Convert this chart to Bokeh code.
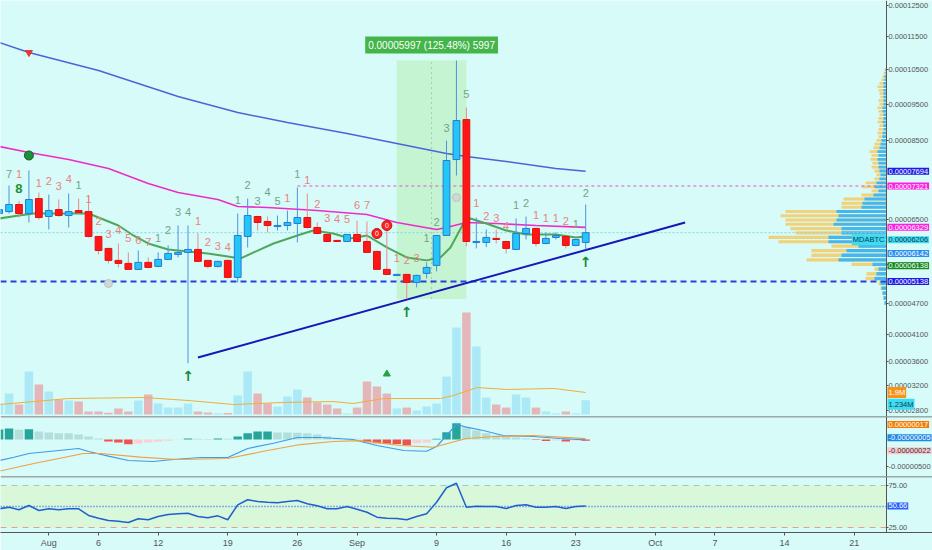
import numpy as np
from bokeh.plotting import figure
from bokeh.models import (Range1d, FixedTicker, CustomJSTickFormatter, Span, Label,
                          BoxAnnotation, ColumnDataSource)
from bokeh.layouts import column
from bokeh.embed import file_html
from bokeh.resources import INLINE
from bokeh.core.properties import value

# ---------------- data (prices in satoshi = 1e-8 BTC, day 0 = Aug 1) ----------------
days = list(range(-5, 55))
opens = [6652, 6699, 6868, 6652, 7012, 6582, 6747, 6605, 6724, 6699,
         6120, 5851, 5588, 5522, 5394, 5544, 5458, 5609, 5718, 5762,
         5828, 5588, 5458, 5588, 5224, 6120, 6582, 6464, 6349, 6371,
         6418, 6558, 6325, 6165, 6030, 6006, 6165, 6006, 5784, 5394,
         5266, 5287, 5119, 5309, 5479, 6142, 7994, 9067, 5984, 5984,
         6075, 6006, 5828, 6187, 6303, 5961, 6097, 6120, 5917, 5984]
highs = [6800, 7333, 6950, 7713, 7160, 7110, 6989, 7135, 7012, 7086,
         6130, 5860, 5961, 5762, 5806, 5653, 5762, 5917, 6371, 6371,
         6187, 5600, 5580, 5600, 6652, 7012, 6600, 6582, 6605, 6724,
         7283, 7135, 6442, 6180, 6040, 6180, 6488, 6464, 5800, 6257,
         5300, 5300, 5280, 5544, 6150, 8495, 10776, 9403, 6558, 6279,
         6279, 6020, 6535, 6582, 6320, 6210, 6210, 6130, 6060, 6868]
lows = [6600, 6652, 6558, 6442, 6510, 6279, 6580, 6325, 6650, 6097,
        5718, 5522, 5436, 5380, 5380, 5420, 5440, 5600, 5653, 3574,
        5550, 5415, 5430, 5200, 5119, 5872, 6257, 6210, 6257, 6257,
        5984, 6300, 6170, 5990, 5995, 5990, 5990, 5750, 5380, 5270,
        5250, 4779, 5017, 5203, 5351, 6130, 7584, 5895, 5851, 5880,
        5961, 5740, 5820, 6051, 5895, 5940, 6051, 5851, 5900, 5828]
closes = [6747, 6868, 6652, 6989, 6558, 6724, 6605, 6699, 6677, 6120,
          5806, 5588, 5522, 5394, 5544, 5436, 5609, 5740, 5762, 5828,
          5566, 5458, 5566, 5224, 6142, 6605, 6442, 6371, 6371, 6442,
          6558, 6325, 6187, 6006, 6006, 6165, 6006, 5762, 5394, 5287,
          5287, 5119, 5266, 5436, 6142, 7969, 9040, 6006, 6006, 6097,
          6051, 5851, 6187, 6303, 5961, 6075, 6142, 5917, 6051, 6206]
volume_m = [0.95, 1.81, 0.86, 3.72, 2.59, 1.99, 1.30, 1.21, 1.12, 0.26,
            0.26, 0.15, 0.52, 0.26, 1.21, 1.73, 0.95, 0.60, 0.60, 0.95,
            0.26, 0.17, 0.10, 0.12, 1.64, 3.72, 1.81, 0.95, 0.69, 1.56,
            2.16, 1.47, 1.04, 0.86, 0.52, 0.10, 0.60, 2.85, 2.42, 1.81,
            0.52, 0.60, 0.35, 0.69, 0.95, 3.28, 7.52, 8.81, 5.88, 1.47,
            0.86, 0.60, 1.73, 1.47, 0.60, 0.26, 0.10, 0.26, 0.10, 1.234]
vol_ma_days = [-5, -1.5, 2, 9.5, 14, 18.6, 23.6, 28.6, 30.6, 33.7, 39.4, 40.7, 43.1, 46.1, 50.8, 54]
vol_ma_m = [0.86, 1.12, 1.38, 1.47, 1.21, 0.86, 1.04, 1.12, 0.95, 1.38, 1.38, 1.64, 2.33, 2.16, 2.25, 1.90]

ma_slow_days = [-5, -2, 5, 9, 13, 19, 24, 30, 35, 40, 42, 46, 51, 54]
ma_slow = [11326, 11019, 10476, 10094, 9718, 9264, 8987, 8686, 8417, 8152, 8074, 7944, 7763, 7694]
ma_mid_days = [-5, -2, 2, 6, 10, 13, 17, 19, 22, 27, 32, 35, 39, 40, 42, 45, 49, 54]
ma_mid = [8337, 8178, 7996, 7763, 7384, 7161, 6989, 6820, 6796, 6724, 6630, 6442, 6279, 6325, 6442, 6418, 6371, 6329]
ma_fast_days = [-5, -3, -1.5, 2, 4, 5, 7, 8.5, 10, 12, 14, 16, 18, 19.3, 20.6, 22.6, 25.3, 26.6,
                28.6, 30.3, 32, 34, 36, 38, 39.4, 40.4, 41.7, 42.4, 44, 46, 48, 51, 53, 54]
ma_fast = [6535, 6605, 6652, 6652, 6652, 6558, 6371, 6142, 5961, 5828, 5784, 5740, 5675, 5631, 5762, 5961,
           6165, 6257, 6187, 6075, 6142, 5872, 5653, 5588, 5653, 5872, 6418, 6535, 6418, 6257, 6165, 6165, 6097, 6120]

td_days = [-4, -3, -3, -1, 0, 1, 2, 3, 4, 5, 6, 7, 8, 9, 10, 11, 12, 13, 14, 15,
           16, 17, 18, 19, 20, 21, 22, 23, 24, 25, 26, 27, 28, 29, 30, 31, 32, 35, 36, 37,
           38, 39, 40, 42, 43, 44, 45, 46, 47, 48, 49, 50, 51, 52, 53, 54]
td_text = ["7", "1", "8", "1", "2", "3", "4", "1", "1", "2", "3", "4", "5", "6", "7", "1", "2", "3", "4", "1",
           "2", "3", "4", "1", "2", "3", "4", "5", "1", "1", "1", "2", "3", "4", "5", "6", "7", "1", "2", "3",
           "1", "2", "3", "5", "1", "2", "3", "4", "1", "2", "1", "1", "1", "2", "1", "2"]
td_price = [7635, 7635, 7260, 7384, 7434, 7333, 7484, 7358, 7012, 6488, 6165, 6279, 6075, 6030, 5984, 6075, 6257, 6699, 6699, 6488,
            5984, 5895, 5872, 6989, 7358, 6941, 7184, 6941, 7037, 7635, 7459, 6892, 6558, 6512, 6512, 6845, 6868, 5631, 5588, 5631,
            6075, 6464, 8847, 9801, 6916, 6605, 6558, 6349, 6868, 6916, 6629, 6558, 6558, 6488, 6418, 7160]
td_kind = ["b", "s", "B", "s", "s", "s", "s", "b", "s", "s", "s", "s", "s", "s", "s", "b", "b", "b", "b", "s",
           "s", "s", "s", "b", "b", "b", "b", "b", "s", "b", "s", "s", "s", "s", "s", "s", "s", "s", "s", "s",
           "b", "b", "b", "b", "s", "s", "s", "s", "b", "b", "s", "s", "s", "s", "b", "b"]

buy_arrow_days = [14, 36, 54]
support_level = 5138
resistance_level = 7321
resistance_from_day = 25
last_price = 6206
trend_days = [15, 64]
trend_price = [3676, 6442]
measure_days = [35, 42]
measure_low, measure_high = 4779, 10776
measure_text = "0.00005997 (125.48%) 5997"

vp_price = list(range(4700, 10600, 100))
vp_total = [2, 3, 4, 6, 8, 21, 20, 12, 35, 80,
            75, 75, 55, 108, 118, 91, 96, 101, 101, 106,
            101, 45, 45, 43, 25, 15, 25, 21, 12, 10,
            12, 15, 14, 16, 15, 17, 13, 12, 10, 8,
            9, 8, 7, 9, 8, 7, 8, 9, 7, 8,
            6, 7, 8, 9, 7, 5, 4, 3, 2]
vp_up = [2, 3, 4, 5, 6, 12, 10, 8, 14, 48,
         45, 40, 28, 58, 58, 45, 45, 53, 50, 48,
         50, 25, 24, 22, 13, 8, 12, 10, 7, 6,
         7, 8, 8, 9, 8, 9, 7, 6, 5, 4,
         4, 3, 3, 4, 3, 3, 4, 4, 3, 3,
         3, 3, 3, 3, 3, 2, 2, 1, 1]

macd_hist = [185, 204, 180, 190, 148, 130, 117, 115, 93, 56,
             18, -37, -56, -87, -74, -56, -43, -24, -5, 19,
             12, 10, 20, 12, 56, 117, 148, 150, 130, 128,
             126, 117, 93, 56, 31, 19, 12, -50, -68, -80,
             -81, -105, -68, -56, 12, 135, 302, 228, 167, 117,
             74, 46, 37, 19, -9, -28, -19, -37, -20, -22]
macd_days = [-5, -3.5, -2, 0, 3, 4, 6, 8, 10.5, 12.5, 15.3, 18, 20, 22.6, 25, 27.3, 30.6, 33,
             35.7, 38, 39, 40, 41, 42, 43.7, 45.7, 48.7, 51.4, 54]
macd_line = [-389, -328, -259, -222, -167, -222, -309, -389, -407, -370, -333, -333, -167, -69, 37, 37, 0,
             -111, -204, -217, -130, 74, 278, 228, 167, 74, 56, 19, -5]
signal_days = [-5, -1.5, 3.5, 5.2, 9.2, 12.9, 18, 22, 25.3, 28.6, 31.3, 35.4, 38.7, 42, 44.8, 48.7, 54]
signal_line = [-587, -444, -259, -259, -328, -370, -352, -204, -93, -37, -19, -111, -143, 19, 56, 74, 17]

rsi = [47.3, 49.2, 46.1, 51.2, 45.2, 47.3, 46.1, 47.3, 47.3, 39.3,
       36.1, 33.3, 32.5, 31.0, 35.4, 34.2, 38.1, 40.5, 41.3, 42.0,
       38.1, 36.5, 38.9, 34.2, 52.0, 58.0, 56.0, 55.1, 54.4, 56.0,
       57.1, 53.2, 50.8, 47.3, 47.3, 50.0, 46.8, 43.2, 37.3, 36.1,
       35.7, 34.2, 38.1, 41.3, 55.1, 72.3, 77.7, 49.2, 50.4, 50.0,
       50.0, 47.6, 51.2, 52.0, 49.2, 49.2, 50.0, 47.6, 50.0, 50.66]

x_tick_days = [-5, 0, 5, 11, 18, 25, 31, 39, 46, 53, 61, 67, 74, 81]
x_tick_labels = ["27", "Aug", "6", "12", "19", "26", "Sep", "9", "16", "23", "Oct", "7", "14", "21"]
price_ticks = [12500, 11500, 10500, 9500, 8500, 6500, 5500, 4700, 4100, 3600, 3200, 2800]

# ---------------- styling ----------------
BG = "#d6fbf8"
AX = "#555555"
FONT = "Liberation Sans"
LBL = "7.5px"
X_START, X_END = -4.858, 88.88
AXIS_DAY = 84.25


def sq(a):
    return np.sqrt(np.asarray(a, dtype=float))


def make_fig(height, y_range, bottom_axis=False):
    p = figure(width=932, height=height, x_range=Range1d(X_START, X_END), y_range=y_range,
               output_backend="svg", toolbar_location=None,
               x_axis_location="below" if bottom_axis else None, y_axis_location="right",
               background_fill_color=BG, border_fill_color=BG, outline_line_color=None,
               min_border_left=0, min_border_top=0, min_border_bottom=18 if bottom_axis else 0,
               min_border_right=0)
    p.grid.visible = False
    for ax in p.axis:
        ax.axis_line_color = AX
        ax.major_tick_line_color = AX
        ax.major_tick_out = 2
        ax.major_tick_in = 0
        ax.minor_tick_line_color = None
        ax.major_label_text_font = FONT
        ax.major_label_text_font_size = LBL
        ax.major_label_text_color = AX
        ax.major_label_standoff = 0
    p.yaxis.fixed_location = AXIS_DAY
    return p


def side_label(p, y, text, bg, fg="white", dy=0, rng="default", align="left"):
    lbl = Label(x=AXIS_DAY, y=y, text=text, x_offset=1 if align == "left" else -1, y_offset=dy,
                text_align=align, text_baseline="middle", text_font=FONT, text_font_size=LBL,
                text_color=fg, background_fill_color=bg, y_range_name=rng, padding=1)
    p.add_layout(lbl)


def hline(p, y, **kw):
    p.segment(x0=X_START, x1=AXIS_DAY, y0=y, y1=y, **kw)


# ---------------- main pane ----------------
main = make_fig(416, Range1d(np.sqrt(2710), np.sqrt(12663)))
main.extra_y_ranges = {"vol": Range1d(-0.173e6, 35.77e6)}
main.extra_x_ranges = {"vp": Range1d(886, -46)}
main.yaxis.ticker = FixedTicker(ticks=list(sq(price_ticks)))
main.yaxis.formatter = CustomJSTickFormatter(code="return (tick*tick/1e8).toFixed(8);")

o, h, l, c = (np.array(v, dtype=float) for v in (opens, highs, lows, closes))
up = c >= o
top = sq(np.maximum(o, c))
bot = sq(np.minimum(o, c))
thin = (top - bot) < 0.16
mid = (top + bot) / 2
top = np.where(thin, mid + 0.08, top)
bot = np.where(thin, mid - 0.08, bot)

main.add_layout(BoxAnnotation(left=measure_days[0], right=measure_days[1], bottom=np.sqrt(measure_low),
                              top=np.sqrt(measure_high), fill_color="#bff2c6", fill_alpha=0.75,
                              line_color=None, level="underlay"))
main.line([sum(measure_days) / 2] * 2, [np.sqrt(measure_low), np.sqrt(measure_high)],
          line_color="#9ccfa4", line_dash="2 3", line_width=1)

# volume profile
vp_p = np.array(vp_price, dtype=float)
vp_h = (sq(vp_p + 50) - sq(vp_p - 50)) * 0.72
main.hbar(y=sq(vp_p), height=vp_h, left=0, right=vp_total, x_range_name="vp",
          fill_color="#f1d27c", line_color=None)
main.hbar(y=sq(vp_p), height=vp_h, left=0, right=vp_up, x_range_name="vp",
          fill_color="#45b7ef", line_color=None)

# volume bars
vol_colors = ["#abe9f7" if u else "#e4b6b9" for u in up]
main.vbar(x=days, width=0.85, top=np.array(volume_m) * 1e6, bottom=0, y_range_name="vol",
          fill_color=vol_colors, line_color=None)
main.line(vol_ma_days, np.array(vol_ma_m) * 1e6, y_range_name="vol", line_color="#f0ae3c", line_width=1)
main.scatter([34], [3.5e6], y_range_name="vol", marker="triangle", size=7, color="#2e9e48")

# horizontal levels
hline(main, np.sqrt(last_price), line_color="#86d3dc", line_dash="2 2", line_width=1)
hline(main, np.sqrt(support_level), line_color="#2b3fe0", line_dash="6 4", line_width=2)
main.segment(x0=resistance_from_day, x1=AXIS_DAY, y0=np.sqrt(resistance_level), y1=np.sqrt(resistance_level),
             line_color="#f04fc8", line_dash="3 3", line_width=1)

# moving averages
main.line(ma_slow_days, sq(ma_slow), line_color="#4e63d8", line_width=1.5)
main.line(ma_mid_days, sq(ma_mid), line_color="#f02cc8", line_width=1.6)
main.line(ma_fast_days, sq(ma_fast), line_color="#4fa85a", line_width=2)

# trend line
main.line(trend_days, sq(trend_price), line_color="#1717b8", line_width=2)

# candles
wick_colors = ["#4f93e0" if u else "#e98b8b" for u in up]
main.segment(x0=days, x1=days, y0=sq(l), y1=sq(h), line_color=wick_colors, line_width=1)
main.vbar(x=days, width=0.68, top=top, bottom=bot,
          fill_color=["#22c6f7" if u else "#ff1616" for u in up],
          line_color=["#2a79d6" if u else "#e31010" for u in up], line_width=1)

# markers
main.scatter([-2], [np.sqrt(11019)], marker="inverted_triangle", size=7, color="#e53935")
main.scatter([-2], [np.sqrt(8100)], marker="circle", size=9, fill_color="#1f8f3a", line_color="#0d5a22")
main.scatter([33, 34], sq([6187, 6371]), marker="circle", size=10, fill_color="#ff2020", line_color="#c01010")
main.text([33, 34], sq([6187, 6371]), text=["0", "0"], text_font_size="7px", text_color="white",
          text_align="center", text_baseline="middle", text_font=value("Liberation Sans"))
main.scatter([6, 41], sq([5097, 7037]), marker="circle", size=8, fill_color="#cfd8d6", line_color="#b8c4c2")

td_colors = {"s": "#e8837f", "b": "#74a386", "B": "#1f8f3a"}
tds = ColumnDataSource(dict(x=td_days, y=sq(td_price), t=td_text,
                            col=[td_colors[k] for k in td_kind],
                            fs=["13px" if k == "B" else "11px" for k in td_kind],
                            fw=["bold" if k == "B" else "normal" for k in td_kind]))
main.text("x", "y", text="t", source=tds, text_color="col", text_font_size="fs", text_font_style="fw",
          text_align="center", text_baseline="middle", text_font=value("Liberation Sans"))

arrow_lows = [lows[days.index(d)] for d in buy_arrow_days]
main.text(buy_arrow_days, sq(arrow_lows), text=["↑"] * len(buy_arrow_days), text_color="#138a36",
          text_font_size="14px", text_font_style="bold", text_align="center", text_baseline="top",
          y_offset=5, text_font=value("DejaVu Sans"))

main.add_layout(Label(x=sum(measure_days) / 2, y=np.sqrt(measure_high), y_offset=7, text=measure_text,
                      text_align="center", text_baseline="bottom", text_font=FONT, text_font_size="10px",
                      text_color="white", background_fill_color="#43b549", padding=3))

# right axis value labels
side_label(main, np.sqrt(ma_slow[-1]), "%.8f" % (ma_slow[-1] / 1e8), "#1c1ce6")
side_label(main, np.sqrt(resistance_level), "%.8f" % (resistance_level / 1e8), "#ff1ee0")
side_label(main, np.sqrt(ma_mid[-1]), "%.8f" % (ma_mid[-1] / 1e8), "#ff1ee0")
side_label(main, np.sqrt(last_price), "%.8f" % (last_price / 1e8), "#3edcf0", fg="#123a55", dy=-7)
side_label(main, np.sqrt(last_price), "MDABTC", "#3edcf0", fg="#123a55", dy=-7, align="right")
side_label(main, np.sqrt(6142), "0.00006142", "#2d8ff0", dy=-18)
side_label(main, np.sqrt(6138), "0.00006138", "#15891c", dy=-30)
side_label(main, np.sqrt(support_level), "%.8f" % (support_level / 1e8), "#1c1ce6")
side_label(main, vol_ma_m[-1] * 1e6, "1.9M", "#f7931a", rng="vol")
side_label(main, volume_m[-1] * 1e6, "1.234M", "#3edcf0", fg="#123a55", rng="vol", dy=-4)

# ---------------- MACD pane ----------------
macd = make_fig(60, Range1d(-685, 426))
macd.yaxis.ticker = FixedTicker(ticks=[-500])
macd.yaxis.formatter = CustomJSTickFormatter(code="return (tick/1e8).toFixed(8);")
hcol = []
for i, v in enumerate(macd_hist):
    prev = macd_hist[i - 1] if i > 0 else v
    if v >= 0:
        hcol.append("#26a69a" if v >= prev else "#b2dfdb")
    else:
        hcol.append("#ef5350" if v <= prev else "#ffcdd2")
macd.vbar(x=days, width=0.85, top=macd_hist, bottom=0, fill_color=hcol, line_color=None)
macd.line(macd_days, macd_line, line_color="#3f9ae8", line_width=1.2)
macd.line(signal_days, signal_line, line_color="#f0a040", line_width=1.2)
macd.add_layout(Span(location=426, dimension="width", line_color=AX, line_width=1.5))
side_label(macd, signal_line[-1], "%.8f" % (signal_line[-1] / 1e8), "#f57c00", dy=14)
side_label(macd, macd_line[-1], "%.8f" % (macd_line[-1] / 1e8), "#1e88e5", dy=2)
side_label(macd, macd_hist[-1], "%.8f" % (macd_hist[-1] / 1e8), "#f8c9cd", fg="#333333", dy=-10)

# ---------------- RSI pane ----------------
rsip = make_fig(74, Range1d(19.05, 85.71), bottom_axis=True)
rsip.add_layout(BoxAnnotation(right=AXIS_DAY, bottom=25, top=75, fill_color="#d9f7d9", fill_alpha=1,
                              line_color=None, level="underlay"))
hline(rsip, 75, line_color="#a9c9a9", line_dash="6 5", line_width=1)
hline(rsip, 25, line_color="#e79c9c", line_dash="6 5", line_width=1)
hline(rsip, 50, line_color="#2962ff", line_dash="1 2", line_width=1.5)
rsip.add_layout(Span(location=85.71, dimension="width", line_color=AX, line_width=1.5))
rsip.line(days, rsi, line_color="#1f5fd0", line_width=1.5)
rsip.yaxis.ticker = FixedTicker(ticks=[25, 75])
rsip.yaxis.formatter = CustomJSTickFormatter(code="return tick.toFixed(2);")
rsip.xaxis.ticker = FixedTicker(ticks=x_tick_days)
rsip.xaxis.major_label_overrides = {d: t for d, t in zip(x_tick_days, x_tick_labels)}
rsip.xaxis.major_tick_out = 3
rsip.xaxis.major_label_standoff = 2
rsip.xaxis.major_label_text_font_size = "9px"
side_label(rsip, rsi[-1], "%.2f" % rsi[-1], "#2962ff")

layout = column(main, macd, rsip)
open("out.html", "w").write(file_html(layout, INLINE))
